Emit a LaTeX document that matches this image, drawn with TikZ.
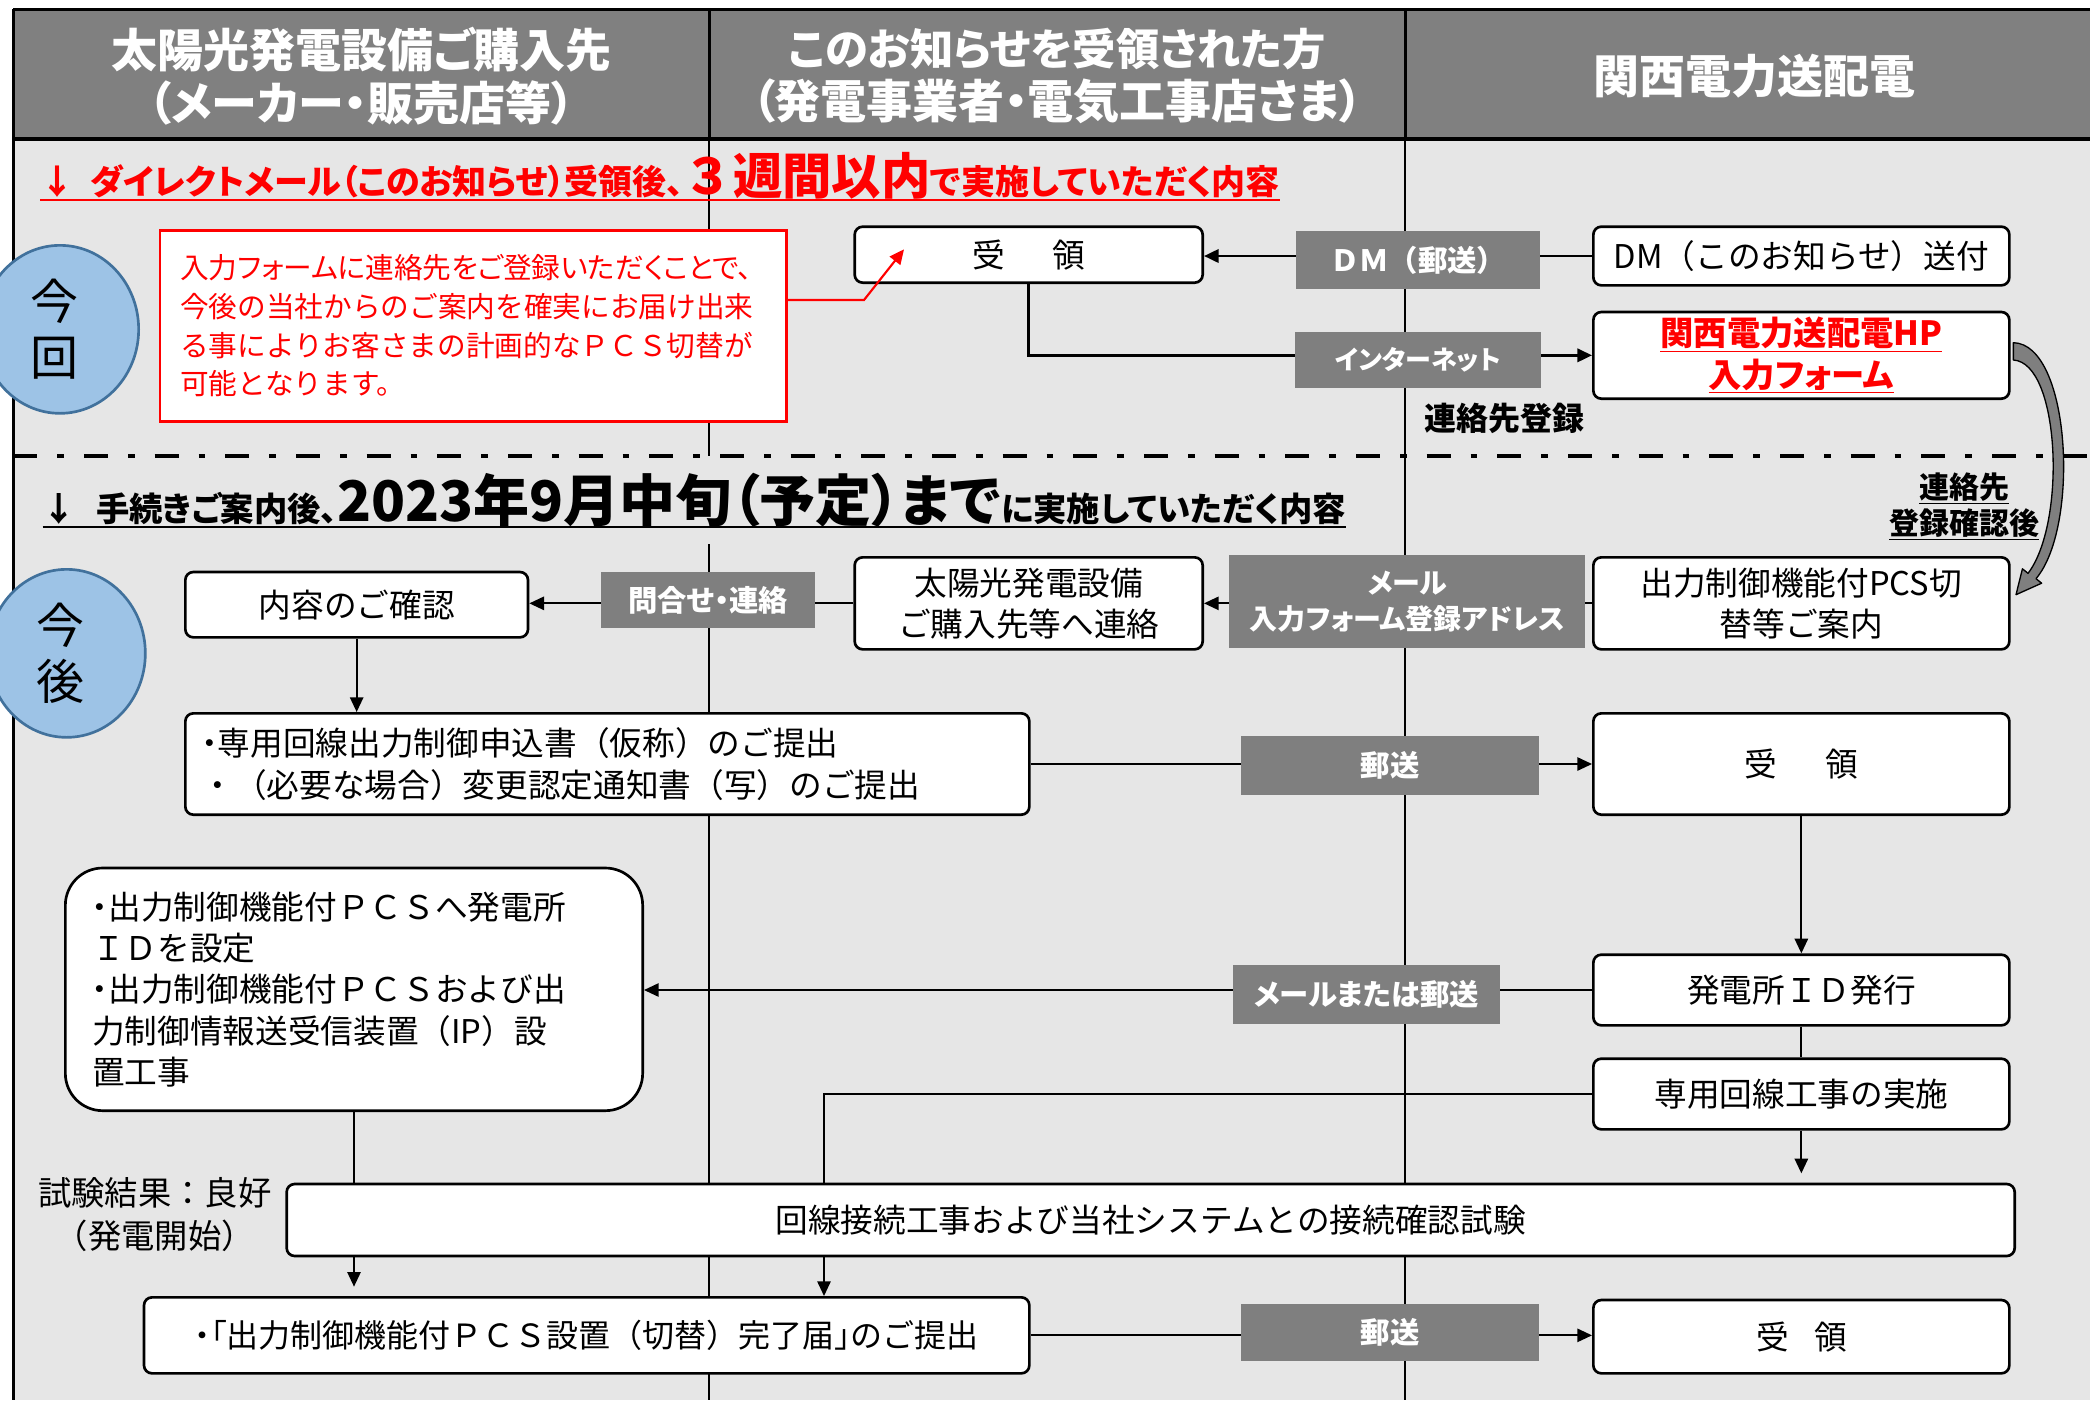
\documentclass[tikz,border=0pt]{standalone}
\usepackage{fontspec}
\setmainfont{Noto Sans CJK JP}
\newfontfamily\jpp{Noto Sans CJK JP}[RawFeature=+palt]
\usetikzlibrary{arrows.meta,calc,shapes.geometric}
\definecolor{bgray}{HTML}{E6E6E6}
\definecolor{hgray}{HTML}{808080}
\definecolor{lgray}{HTML}{7F7F7F}
\definecolor{cfill}{HTML}{9DC3E6}
\definecolor{cdraw}{HTML}{41719C}
\definecolor{kred}{HTML}{FF0000}
\begin{document}
\begin{tikzpicture}[x=1pt,y=-1pt,
  box/.style={draw=black, line width=2pt, fill=white, rounded corners=6pt, inner sep=0pt,
    font=\fontsize{24.5}{31}\selectfont, align=center},
  glabel/.style={fill=lgray, text=white, inner sep=0pt, font=\jpp\bfseries\fontsize{22}{27}\selectfont, align=center},
  conn/.style={draw=black, line width=1.3pt},
  arr/.style={conn, -{Triangle[length=11pt,width=10pt]}},
  phase/.style={ellipse, draw=cdraw, fill=cfill, line width=2pt, minimum width=118pt, minimum height=126pt,
    inner sep=0pt, align=center, font=\fontsize{36}{42}\selectfont},
  hdtext/.style={text=white, font=\jpp\bfseries\fontsize{34.5}{40}\selectfont, align=center}
]
\useasboundingbox (0,0) rectangle (1567.5,1050);
% background
\fill[white] (0,0) rectangle (1567.5,1050);
\fill[bgray] (10,104) rectangle (1567.5,1050);
\fill[hgray] (10,7) rectangle (1567.5,104);
\draw[line width=2pt] (1567.5,7) -- (10,7);
\draw[line width=1.8pt] (10,7) -- (10,1050);
\draw[line width=3pt] (10,104) -- (1567.5,104);
\draw[line width=2.5pt] (532,7) -- (532,104);
\draw[line width=2.5pt] (1054,7) -- (1054,104);
\draw[line width=1.3pt] (532,104) -- (532,342);
\draw[line width=1.3pt] (532,408) -- (532,1050);
\draw[line width=1.3pt] (1054,104) -- (1054,1050);
% dash-dot separator
\draw[line width=3.7pt, dash pattern=on 18pt off 15pt on 5pt off 15pt] (10,342) -- (1567.5,342);

% header texts
\node[hdtext] (hd1) at (271,57) {太陽光発電設備ご購入先\\（メーカー・販売店等）};
\node[hdtext] (hd2) at (793,57) {{\fontsize{32.5}{40}\selectfont このお知らせを受領された方}\\（発電事業者・電気工事店さま）};
\node[hdtext] (hd3) at (1316,57) {関西電力送配電};

% section headings
\node[anchor=base west, inner sep=0pt, text=kred, font=\jpp\bfseries\fontsize{25.5}{30}\selectfont] (h1) at (30,146)
  {↓\hspace{12pt}ダイレクトメール（このお知らせ）受領後、{\rmfamily\fontsize{37}{40}\selectfont ３週間以内}で実施していただく内容};
\draw[kred, line width=1.6pt] ([yshift=-4pt]h1.base west) -- ([yshift=-4pt]h1.base east);
\node[anchor=base west, inner sep=0pt, font=\jpp\bfseries\fontsize{25}{30}\selectfont] (h2) at (32,391)
  {↓\hspace{15pt}手続きご案内後、{\fontsize{42}{46}\selectfont 2023年9月中旬（予定）まで}に実施していただく内容};
\draw[black, line width=1.6pt] ([yshift=-4pt]h2.base west) -- ([yshift=-4pt]h2.base east);

% phase ellipses
\node[phase] (konkai) at (45,247) {今\hspace*{9pt}\\回\hspace*{9pt}};
\node[phase] (kongo) at (50,490) {今\hspace*{9pt}\\後\hspace*{9pt}};

% --- section 1 boxes
\node[draw=kred, line width=2pt, fill=white, minimum width=470pt, minimum height=143pt, text width=440pt,
  inner xsep=15pt, inner ysep=0pt, align=left, text=kred, font=\fontsize{21.5}{29}\selectfont] (note) at (355,244.5)
  {{\jpp 入力フォームに連絡先をご登録いただくことで、}\\今後の当社からのご案内を確実にお届け出来\\る事によりお客さまの計画的なＰＣＳ切替が\\可能となります。};
\node[box, minimum width=261pt, minimum height=42pt] (ju1) at (771.5,191) {受\hspace{36pt}領};
\node[box, minimum width=312pt, minimum height=44pt] (dmsend) at (1351,192) {DM（このお知らせ）送付};
\node[box, minimum width=312pt, minimum height=65pt, text=kred, font=\bfseries\fontsize{25}{31}\selectfont] (hp) at (1351,266.5)
  {\underline{関西電力送配電HP}\\\underline{\jpp 入力フォーム}};

% --- section 2 boxes
\node[box, minimum width=257pt, minimum height=49pt] (kakunin) at (267.5,453.5) {内容のご確認};
\node[box, minimum width=261pt, minimum height=69pt] (renraku) at (771.5,452.5) {太陽光発電設備\\ご購入先等へ連絡};
\node[box, minimum width=312pt, minimum height=69pt] (annai) at (1351,452.5) {出力制御機能付PCS切\\替等ご案内};
\node[box, minimum height=76pt, text width=609pt, inner xsep=12pt, align=left] (moushi) at (455.5,573)
  {{\jpp ・}専用回線出力制御申込書（仮称）のご提出\\・（必要な場合）変更認定通知書（写）のご提出};
\node[box, minimum width=312pt, minimum height=76pt] (ju2) at (1351,573) {受\hspace{36pt}領};
\node[box, minimum width=312pt, minimum height=53pt] (idhakko) at (1351,742.5) {発電所ＩＤ発行};
\node[box, minimum width=312pt, minimum height=53pt] (senyo) at (1351,820.5) {専用回線工事の実施};
\node[box, rounded corners=28pt, minimum height=182pt, text width=393pt, inner xsep=20pt, align=left] (leftbig) at (265.5,742)
  {{\jpp ・}出力制御機能付ＰＣＳへ発電所\\ＩＤを設定\\{\jpp ・}出力制御機能付ＰＣＳおよび出\\力制御情報送受信装置（IP）設\\置工事};
\node[box, minimum width=312pt, minimum height=55pt] (ju3) at (1351,1002.5) {受\hspace{19pt}領};
\node[box, minimum width=1296pt, minimum height=54pt] (bigbox) at (863,915) {回線接続工事および当社システムとの接続確認試験};
\node[box, minimum width=664pt, minimum height=57pt, font=\fontsize{24}{31}\selectfont] (final) at (440,1001.5) {{\jpp ・「}出力制御機能付ＰＣＳ設置（切替）完了届{\jpp 」}のご提出};

% free coordinates
\coordinate (redtip) at (678,187);
\coordinate (c1) at (1351,880);
\coordinate (k618top) at (618,888);
\coordinate (k618bot) at (618,942);
\coordinate (c2) at (265.5,965);

% connectors
\draw[arr, line width=2pt] (dmsend.west) -- (dmsend.west -| ju1.east);
\draw[arr, line width=2pt] (ju1.south) |- (hp.west);
\draw[arr, draw=kred, line width=1.6pt] ([yshift=19.5pt]note.east) -- (648,225) -- (redtip);
\draw[arr] (annai.west) -- (renraku.east);
\draw[arr] (renraku.west) -- (renraku.west -| kakunin.east);
\draw[arr] (kakunin.south) -- (kakunin.south |- moushi.north);
\draw[arr] (moushi.east) -- (ju2.west);
\draw[arr] (ju2.south) -- (idhakko.north);
\draw[conn] (idhakko.south) -- (senyo.north);
\draw[arr] (senyo.south) -- (c1);
\draw[arr] (idhakko.west) -- (idhakko.west -| leftbig.east);
\draw[conn] (senyo.west) -| (k618top);
\draw[arr] (k618bot) -- (k618bot |- final.north);
\draw[conn] (leftbig.south) -- (leftbig.south |- bigbox.north);
\draw[arr] (bigbox.south -| leftbig.south) -- (c2);
\draw[arr] (final.east) -- (final.east -| ju3.west);

% curved block arrow (tapered body with head)
\filldraw[fill=lgray, draw=black, line width=1pt, line join=round]
  (1510,257) .. controls (1553,258) and (1560,395) .. (1527,434)
  -- (1531.2,437.4) -- (1512,446) -- (1516.8,426.6) -- (1521,430)
  .. controls (1550,392) and (1545,272) .. (1510,270) -- cycle;

% labels on connectors
\node[glabel, minimum width=183pt, minimum height=44pt, font=\rmfamily\bfseries\fontsize{22}{27}\selectfont] (ldm) at (1063.5,195) {ＤＭ（郵送）};
\node[glabel, minimum width=185pt, minimum height=42pt, font=\jpp\bfseries\fontsize{19.5}{24}\selectfont] (lnet) at (1063.5,270) {インターネット};
\node[glabel, minimum width=160pt, minimum height=42pt] (ltoi) at (531,450) {問合せ・連絡};
\node[glabel, minimum width=267pt, minimum height=70pt, font=\jpp\bfseries\fontsize{21}{27}\selectfont] (lmail) at (1055.5,451) {メール\\入力フォーム登録アドレス};
\node[glabel, minimum width=223pt, minimum height=44pt] (lyuso1) at (1042.5,574) {郵送};
\node[glabel, minimum width=200pt, minimum height=44pt] (lmy) at (1025,746) {メールまたは郵送};
\node[glabel, minimum width=223pt, minimum height=43pt] (lyuso2) at (1042.5,999.5) {郵送};

% free texts
\node[font=\bfseries\fontsize{24}{28}\selectfont] (reg) at (1128,314) {連絡先登録};
\node[font=\bfseries\fontsize{22.5}{27}\selectfont, align=center] (after) at (1473,380) {\underline{連絡先}\\\underline{登録確認後}};
\node[font=\fontsize{25}{32}\selectfont, align=center] (result) at (116,911) {試験結果：良好\\（発電開始）};
\end{tikzpicture}
\end{document}
